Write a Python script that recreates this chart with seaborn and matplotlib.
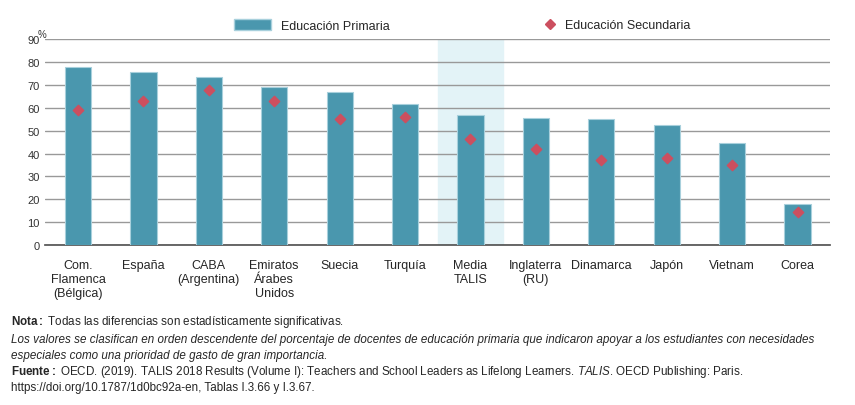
import matplotlib
matplotlib.use("Agg")
import matplotlib.pyplot as plt
import seaborn as sns
import pandas as pd
from matplotlib.lines import Line2D
from matplotlib.patches import Patch

categories = ["Com.\nFlamenca\n(Bélgica)", "España", "CABA\n(Argentina)", "Emiratos\nÁrabes\nUnidos",
              "Suecia", "Turquía", "Media\nTALIS", "Inglaterra\n(RU)", "Dinamarca", "Japón", "Vietnam", "Corea"]
primaria = [78, 75.5, 73.5, 69, 67, 61.5, 57, 55.5, 55, 52.5, 44.5, 18]
secundaria = [59, 63, 68, 63, 55, 56, 46.5, 42, 37, 38, 35, 14.5]

sns.set_theme(style="white")
plt.rcParams['font.family'] = ['Liberation Sans', 'DejaVu Sans']
plt.rcParams['mathtext.fontset'] = 'custom'
plt.rcParams['mathtext.rm'] = 'Liberation Sans'
plt.rcParams['mathtext.bf'] = 'Liberation Sans:bold'
plt.rcParams['mathtext.it'] = 'Liberation Sans:italic'
df = pd.DataFrame({"cat": categories, "prim": primaria, "sec": secundaria})

fig = plt.figure(figsize=(8.55, 4.06), dpi=100)
ax = fig.add_axes([0.053, 0.394, 0.918, 0.507])
ax.axvspan(5.5, 6.5, color="#e3f3f7", zorder=0)
sns.barplot(data=df, x="cat", y="prim", color="#4a97ae", width=0.4, saturation=1,
            edgecolor="#a8d0dc", linewidth=0.8, ax=ax, zorder=3)
ax.scatter(range(len(categories)), secundaria, marker="D", s=28, color="#cc4f5f", zorder=4)
ax.set_ylim(0, 90)
ax.set_xlim(-0.5, 11.5)
ax.set_yticks(range(0, 91, 10))
ax.yaxis.grid(True, color="#999999", linewidth=1)
ax.set_axisbelow(True)
for s in ["top", "right", "left"]:
    ax.spines[s].set_visible(False)
ax.spines["bottom"].set_color("#555555")
ax.set_xlabel(""); ax.set_ylabel("")
ax.tick_params(axis="y", labelsize=8, colors="#333333", length=0, pad=4)
ax.tick_params(axis="x", labelsize=9, length=0, pad=10)
for t in ax.get_xticklabels():
    t.set_va("top")
ax.text(-0.01, 1.01, "%", transform=ax.transAxes, fontsize=7, color="#333333")

fig.legend(handles=[Patch(facecolor="#4a97ae", edgecolor="#a8d0dc", label="Educación Primaria")],
           loc="center left", bbox_to_anchor=(0.26, 0.935), frameon=False, fontsize=9, handlelength=3, handleheight=0.9)
fig.legend(handles=[Line2D([], [], marker="D", color="#cc4f5f", ls="none", markersize=5, label="Educación Secundaria")],
           loc="center left", bbox_to_anchor=(0.615, 0.935), frameon=False, fontsize=9, handletextpad=0.2)

fs = 8.4
fig.text(0.013, 1-322/406, r"$\bf{Nota:}$ Todas las diferencias son estadísticamente significativas.", fontsize=fs, va="center")
fig.text(0.013, 1-340/406, "Los valores se clasifican en orden descendente del porcentaje de docentes de educación primaria que indicaron apoyar a los estudiantes con necesidades",
         fontsize=fs, style="italic", va="center")
fig.text(0.013, 1-356/406, "especiales como una prioridad de gasto de gran importancia.", fontsize=fs, style="italic", va="center")
fig.text(0.013, 1-372/406, r"$\bf{Fuente:}$ OECD. (2019). TALIS 2018 Results (Volume I): Teachers and School Leaders as Lifelong Learners. $\it{TALIS}$. OECD Publishing: Paris.",
         fontsize=fs, va="center")
fig.text(0.013, 1-388/406, "https://doi.org/10.1787/1d0bc92a-en, Tablas I.3.66 y I.3.67.", fontsize=fs, va="center")

fig.savefig("out.png", dpi=100)
